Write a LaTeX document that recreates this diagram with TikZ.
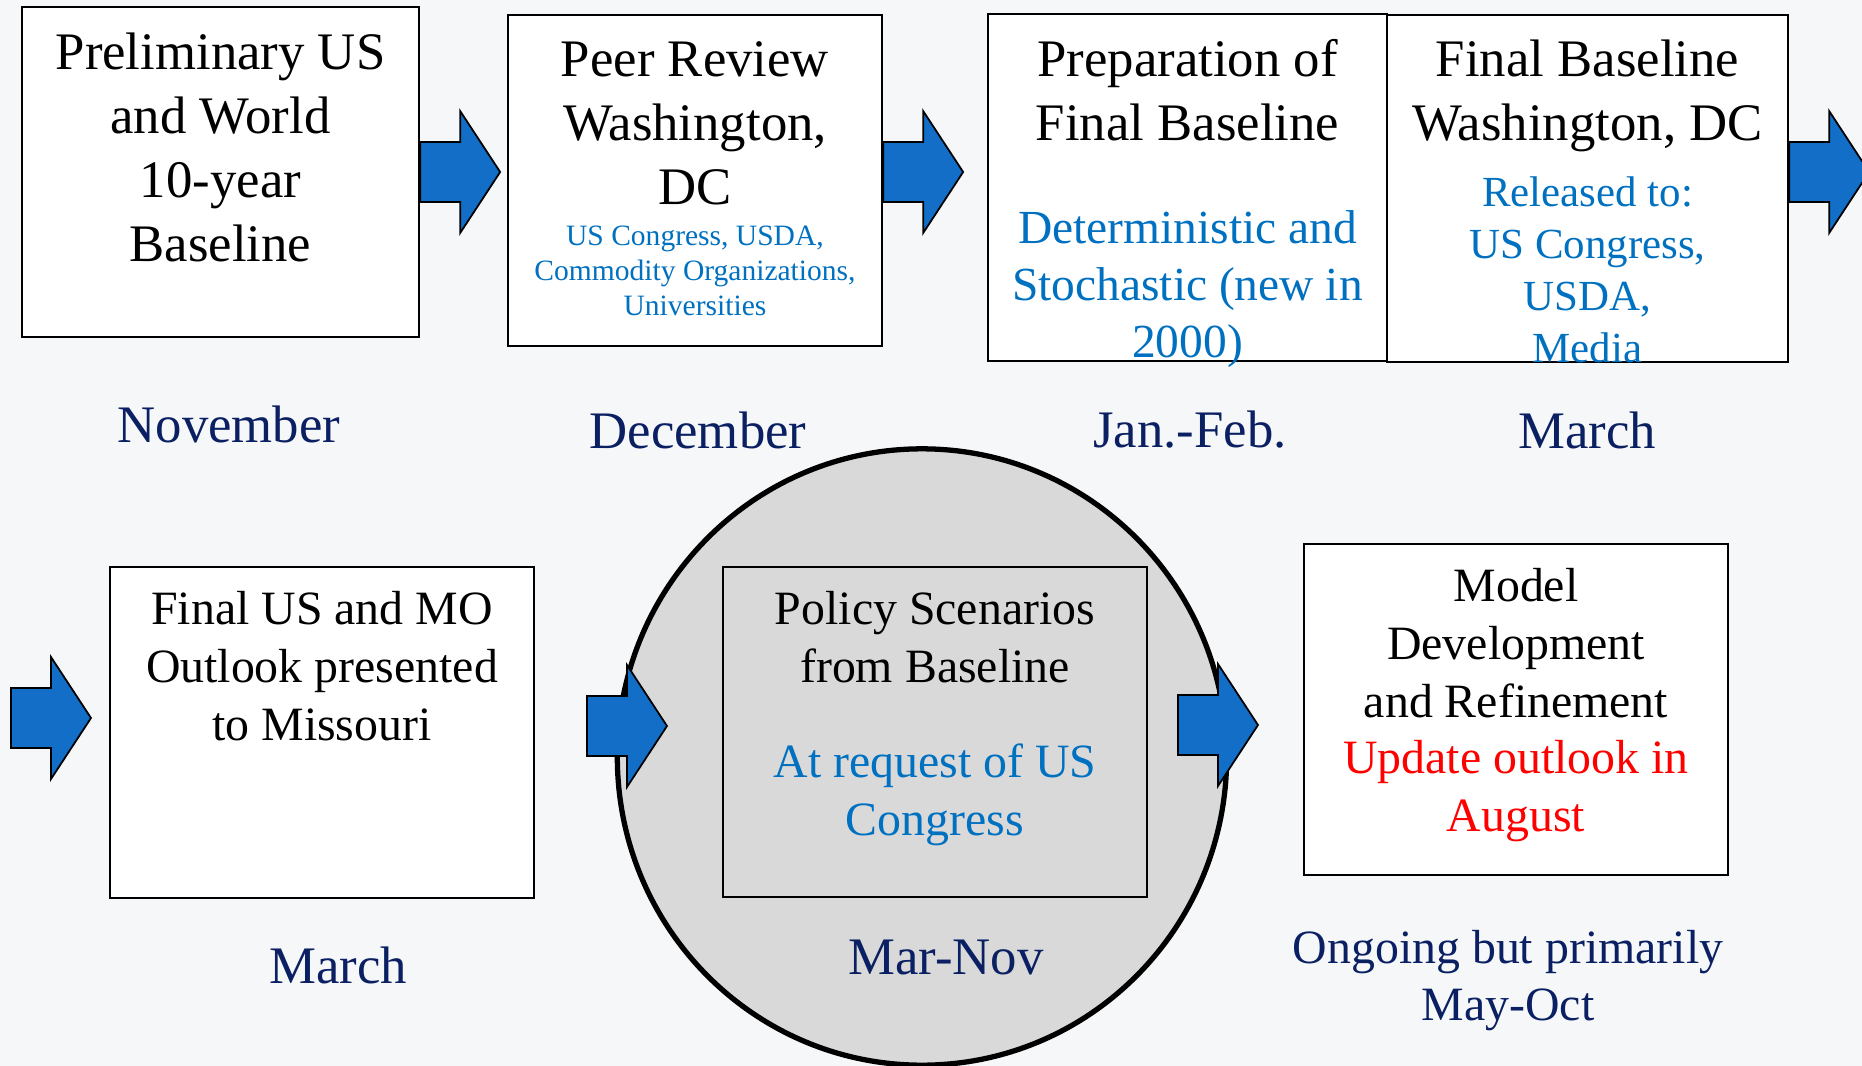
\documentclass[tikz,border=0pt]{standalone}
\usepackage{fontspec}
\setmainfont{Liberation Serif}
\usetikzlibrary{positioning, shapes.geometric}

\definecolor{arrowblue}{RGB}{18,110,198}
\definecolor{textblue}{RGB}{0,112,192}
\definecolor{monthnavy}{RGB}{10,32,98}
\definecolor{ringgray}{RGB}{217,217,217}
\definecolor{pagebg}{RGB}{246,247,249}

% block arrow, drawn from the middle of its tail
\newcommand{\flowarrow}[1]{%
  \draw[blockarrow] #1 ++(0,-30) -- ++(40,0) -- ++(0,-31) -- ++(40,61)
    -- ++(-40,61) -- ++(0,-31) -- ++(-40,0) -- cycle;}

\begin{document}
\begin{tikzpicture}[
  x=0.01cm, y=-0.01cm,
  stagebox/.style={draw=black, fill=white, line width=0.6pt, inner sep=0pt},
  heading/.style={align=center, inner sep=0pt, font=\fontsize{15}{18.2}\selectfont},
  lowtext/.style={align=center, inner sep=0pt, font=\fontsize{13.6}{16.5}\selectfont},
  detail/.style={align=center, inner sep=0pt, text=textblue},
  month/.style={align=center, inner sep=0pt, text=monthnavy, font=\fontsize{15}{16.3}\selectfont},
  blockarrow/.style={draw=black, fill=arrowblue, line width=0.5pt, line join=miter}
]
\clip (0,0) rectangle (1862,1066);
\fill[pagebg] (0,0) rectangle (1862,1066);

% --- the policy ring behind the middle of the lower row ---
\node[ellipse, draw=black, fill=ringgray, line width=1.5pt,
  minimum width=6.09cm, minimum height=6.16cm] (ring) at (922,757) {};

% --- upper row: the baseline cycle ---
\node[stagebox, minimum width=3.97cm, minimum height=3.30cm] (prelim) at (220.5,172) {};
\node[stagebox, minimum width=3.74cm, minimum height=3.31cm] (peer) at (695,180.5) {};
\node[stagebox, minimum width=3.99cm, minimum height=3.47cm] (prep) at (1187.5,187.5) {};
\node[stagebox, minimum width=4.01cm, minimum height=3.47cm] (final) at (1587.5,188.5) {};

\node[heading] (prelimtxt) at (220.5,147) {Preliminary US\\and World\\10-year\\Baseline};
\node[heading] (peertxt) at (695,123) {Peer Review\\Washington,\\DC};
\node[detail, font=\fontsize{8.4}{10}\selectfont] (peerlist) at (695,271)
  {US Congress, USDA,\\Commodity Organizations,\\Universities};
\node[heading] (preptxt) at (1187.5,90) {Preparation of\\Final Baseline};
\node[detail, font=\fontsize{13.5}{16.2}\selectfont] (preplist) at (1187.5,289)
  {Deterministic and\\Stochastic (new in\\2000)};
\node[heading] (finaltxt) at (1587.5,96) {Final Baseline\\Washington, DC};
\node[detail, font=\fontsize{12.2}{14.8}\selectfont] (finallist) at (1587.5,269.5)
  {Released to:\\US Congress,\\USDA,\\Media};

% months under the upper row
\node[month] (nov) at (229,424) {November};
\node[month] (dec) at (698,430) {December};
\node[month] (janfeb) at (1190,430) {Jan.-Feb.};
\node[month] (mar) at (1587,430) {March};

% --- lower row: outlook, scenarios, model work ---
\node[stagebox, minimum width=4.24cm, minimum height=3.31cm] (missouri) at (322,732.5) {};
\node[draw=black, line width=0.6pt, inner sep=0pt,
  minimum width=4.24cm, minimum height=3.30cm] (policy) at (935,732) {};
\node[stagebox, minimum width=4.24cm, minimum height=3.31cm] (model) at (1516,709.5) {};

\node[lowtext] (missouritxt) at (322,666) {Final US and MO\\Outlook presented\\to Missouri};
\node[lowtext] (policytxt) at (935,637) {Policy Scenarios\\from Baseline};
\node[lowtext, text=textblue] (policylist) at (935,795) {At request of US\\Congress};
\node[lowtext] (modeltxt) at (1516,643) {Model\\Development\\and Refinement};
\node[lowtext, text=red] (modelnote) at (1516,791) {Update outlook in\\August};

\node[month] (mar2) at (338,965) {March};
\node[month] (marnov) at (946,957) {Mar-Nov};
\node[month, font=\fontsize{13.6}{16.2}\selectfont] (ongoing) at (1508,980.5)
  {Ongoing but primarily\\May-Oct};

% --- block arrows between the stages ---
\flowarrow{(prelim.east)}
\flowarrow{(peer.east |- prelim.east)}
\flowarrow{(final.east |- prelim.east)}
\flowarrow{(11,718)}
\flowarrow{(587,726)}
\flowarrow{(1178,725)}

\end{tikzpicture}
\end{document}
